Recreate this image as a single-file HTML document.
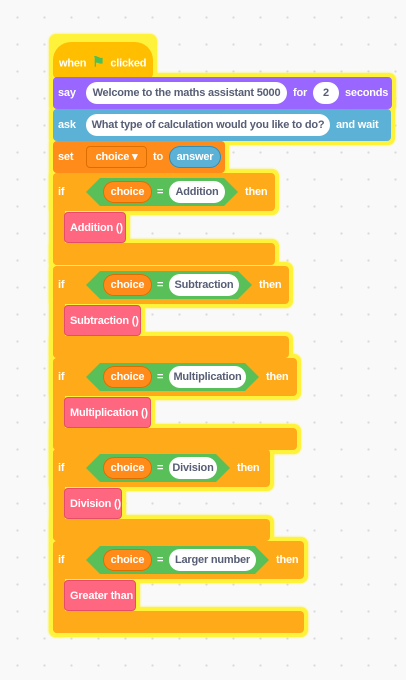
<!DOCTYPE html>
<html><head><meta charset="utf-8"><style>
html,body{margin:0;padding:0}
body{width:406px;height:680px;overflow:hidden;background-color:#f9f9f9;
background-image:radial-gradient(circle,#d9d9d9 1px,transparent 1.3px);background-size:27px 27px;background-position:4px 4px;
font-family:"Liberation Sans",sans-serif;font-weight:bold;font-size:11px;color:#fff;position:relative;letter-spacing:-0.2px}
.g,.b{position:absolute;box-sizing:border-box}
.g{background:#fff23a;border-radius:7px;box-shadow:0 0 2px #fff23a}
.b{border-radius:4px;white-space:nowrap}
.t{position:absolute;top:50%;transform:translateY(-50%);white-space:nowrap}
.pill{position:absolute;top:50%;transform:translateY(-50%);background:#fff;color:#575e75;border-radius:12px;height:22px;line-height:22px;text-align:center}
.hex{position:absolute;top:50%;transform:translateY(-50%);background:#59c059;height:28px;clip-path:polygon(14px 0,calc(100% - 14px) 0,100% 50%,calc(100% - 14px) 100%,14px 100%,0 50%)}
.var{position:absolute;top:50%;transform:translateY(-50%);background:#ff8c1a;border-radius:12px;height:22px;line-height:22px;text-align:center;box-shadow:inset 0 0 0 1px #db6e00}
</style></head><body>
<div id="glow"></div>
<div class="b" style="left:53px;top:42px;width:100px;height:36px;background:#ffbf00;border-radius:18px 18px 4px 4px"><span class="t" style="left:6px;top:55%">when <span style="color:#4cbf56;font-size:14px;margin:0 3px">&#9873;</span> clicked</span></div>
<div class="b" style="left:53px;top:77px;width:339px;height:32px;background:#9966ff"><span class="t" style="left:5px">say</span><span class="pill" style="left:33px;width:201px">Welcome to the maths assistant 5000</span><span class="t" style="left:240px">for</span><span class="pill" style="left:260px;width:26px">2</span><span class="t" style="left:292px">seconds</span></div>
<div class="b" style="left:53px;top:109px;width:338px;height:32px;background:#5cb1d6"><span class="t" style="left:5px">ask</span><span class="pill" style="left:33px;width:244px">What type of calculation would you like to do?</span><span class="t" style="left:283px">and wait</span></div>
<div class="b" style="left:53px;top:141px;width:172px;height:32px;background:#ff8c1a"><span class="t" style="left:5px">set</span><span class="var" style="left:33px;width:61px;border-radius:4px">choice &#9662;</span><span class="t" style="left:100px">to</span><span class="var" style="left:116px;width:52px;background:#5cb1d6;box-shadow:inset 0 0 0 1px #2e8eb8">answer</span></div>
<div id="ifs"></div>
<script>
const ifs=[
 {top:173,w:222,label:"Addition",body:"Addition ()",bw:62},
 {top:266,w:236,label:"Subtraction",body:"Subtraction ()",bw:77},
 {top:358,w:244,label:"Multiplication",body:"Multiplication ()",bw:87},
 {top:449,w:217,label:"Division",body:"Division ()",bw:58},
 {top:541,w:251,label:"Larger number",body:"Greater than",bw:72}
];
const labelW=[56,70,77,48,87];
const glow=document.getElementById('glow'),c=document.getElementById('ifs');
const rects=[[53,38,100,40],[53,77,339,32],[53,109,338,32],[53,141,172,32]];
ifs.forEach(f=>{rects.push([53,f.top,f.w,38]);rects.push([53,f.top,12,92]);rects.push([53,f.top+70,f.w,22]);rects.push([64,f.top+39,f.bw,31]);});
rects.forEach(r=>{const g=document.createElement('div');g.className='g';


g.style.cssText=`left:${r[0]-4}px;top:${r[1]-4}px;width:${r[2]+8}px;height:${r[3]+8}px`;glow.appendChild(g);});
ifs.forEach((f,i)=>{
 const lw=labelW[i];
 const col=document.createElement('div');col.className='b';
 
 
 col.style.cssText=`left:53px;top:${f.top}px;width:12px;height:92px;background:#ffab19;border-radius:4px 0 0 4px`;c.appendChild(col);
 const h=document.createElement('div');h.className='b';
 
 
 h.style.cssText=`left:53px;top:${f.top}px;width:${f.w}px;height:38px;background:#ffab19`;
 const hw=lw+96;
 h.innerHTML=`<span class="t" style="left:5px">if</span><span class="hex" style="left:33px;width:${hw}px"><span class="var" style="left:17px;width:49px">choice</span><span class="t" style="left:71px">=</span><span class="pill" style="left:83px;width:${lw}px">${f.label}</span></span><span class="t" style="left:${33+hw+7}px">then</span>`;
 c.appendChild(h);
 const bt=document.createElement('div');bt.className='b';
 
 
 bt.style.cssText=`left:53px;top:${f.top+70}px;width:${f.w}px;height:22px;background:#ffab19`;c.appendChild(bt);
 const p=document.createElement('div');p.className='b';
 
 
 p.style.cssText=`left:64px;top:${f.top+39}px;width:${f.bw}px;height:31px;background:#ff6680;border:1px solid #e64d6a`;
 p.innerHTML=`<span class="t" style="left:5px">${f.body}</span>`;c.appendChild(p);
});
</script>
</body></html>
